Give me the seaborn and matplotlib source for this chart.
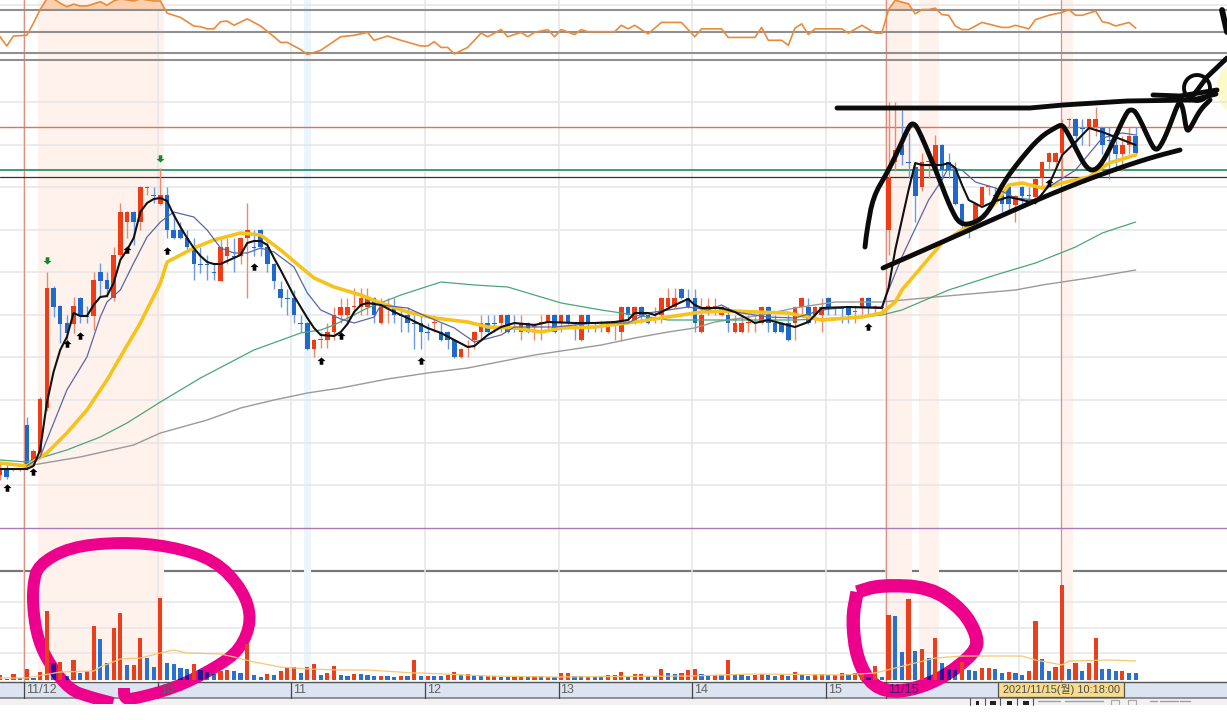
import matplotlib
matplotlib.use('Agg')
import pandas as pd
import seaborn as sns
import matplotlib.pyplot as plt
from matplotlib.markers import MarkerStyle
from matplotlib.path import Path
from matplotlib.patches import Rectangle, Circle, Ellipse

# 3-minute candles, first bar is number -4
opens = [96,103,101,101,146,109,118,163,283,265,
         248,247,273,255,255,299,291,273,316,349,
         359,349,383,376,367,376,341,341,333,324,
         307,307,299,290,315,315,315,333,324,341,
         324,307,282,273,273,248,248,222,231,231,
         239,256,256,264,264,264,273,248,264,264,
         256,256,248,248,239,248,239,239,231,214,
         224,231,239,248,248,248,256,248,239,248,
         244,248,248,256,248,256,248,231,256,248,
         249,239,248,239,264,248,264,256,256,256,
         264,264,282,273,273,239,264,264,256,256,
         239,239,248,248,248,264,248,248,248,248,
         264,264,256,256,273,264,263,264,259,264,
         273,264,263,341,409,426,409,404,384,409,
         401,426,409,401,367,341,349,366,384,376,
         376,384,366,384,376,374,393,409,409,418,
         451,452,443,444,444,443,431,426,417,426,435]
closes = [103,94,102,102,103,120,172,283,264,247,
          238,265,255,254,291,290,282,316,359,359,
          349,384,384,375,376,341,333,333,324,307,
          306,306,298,324,324,314,333,341,323,324,
          307,290,273,272,256,247,222,231,232,239,
          256,264,264,265,273,273,256,264,265,256,
          255,248,247,239,238,249,231,231,214,222,
          225,239,248,239,247,256,239,247,248,239,
          245,249,256,239,256,248,247,256,248,247,
          248,248,249,264,256,264,256,248,257,273,
          273,273,273,264,248,256,265,265,264,248,
          248,248,249,249,264,248,239,239,231,264,
          273,248,264,264,264,263,262,256,260,273,
          264,265,264,393,421,416,408,375,409,410,
          426,401,401,367,349,340,367,384,385,375,
          367,367,375,375,375,392,409,418,418,443,
          452,435,442,452,452,426,430,417,426,435,418]
highs = [109,106,103,103,154,122,174,299,285,266,
         256,274,274,265,299,308,299,324,368,360,
         360,385,385,384,403,384,358,349,341,333,
         324,316,308,333,333,333,334,368,341,342,
         333,308,290,282,281,256,249,232,239,248,
         264,273,273,283,283,283,274,273,273,273,
         264,264,256,256,248,256,248,240,232,223,
         231,240,256,256,256,257,257,256,256,249,
         248,256,257,257,257,257,249,257,257,249,
         250,249,250,265,265,265,265,257,264,274,
         283,283,283,282,282,273,273,273,265,264,
         256,256,256,256,265,265,256,249,256,265,
         274,273,265,273,274,265,264,265,264,274,
         274,266,265,469,469,461,438,409,418,418,
         436,427,418,409,368,349,368,385,386,384,
         377,385,376,385,384,393,410,419,419,452,
         453,453,452,453,464,444,444,435,435,444,444]
lows = [91,92,100,100,101,106,115,160,254,228,
        224,238,248,248,241,274,274,270,314,333,
        326,341,376,368,366,333,332,332,322,291,
        298,291,291,290,307,299,307,273,315,315,
        299,282,264,256,248,239,221,214,223,223,
        231,248,248,256,256,256,248,247,248,248,
        239,239,222,222,231,239,230,222,213,213,
        214,222,231,238,239,239,238,239,231,238,
        231,231,240,238,239,247,231,230,239,239,
        239,238,231,230,248,247,248,247,248,248,
        263,263,272,263,239,238,256,256,255,239,
        238,238,239,239,247,239,238,238,230,231,
        256,247,248,239,256,256,248,248,248,256,
        256,256,258,316,400,406,393,349,380,393,
        400,393,393,366,341,333,348,365,376,368,
        359,359,349,367,367,367,384,401,401,393,
        443,420,426,425,435,417,392,400,400,417,417]

volumes = [5,1,6,2,11,2,8,69,17,18,
           4,20,7,9,54,41,17,52,67,15,
           15,42,22,13,82,17,16,12,11,16,
           10,8,6,9,10,9,7,36,5,3,
           6,5,9,12,13,7,13,16,5,7,
           14,5,4,6,6,5,4,4,4,3,
           4,4,20,4,4,4,4,5,8,5,
           6,4,4,4,4,3,3,4,4,4,
           4,4,3,3,7,7,4,4,3,3,
           3,5,5,8,3,6,6,4,4,11,
           7,6,7,10,11,6,5,5,5,20,
           6,6,4,5,6,5,4,5,4,8,
           6,4,6,6,5,5,7,6,7,7,
           3,14,3,65,64,28,81,29,31,22,
           42,17,11,10,18,10,9,12,12,11,
           7,8,7,5,9,59,21,9,13,95,
           11,17,9,17,42,11,11,9,9,7,7]
vol_dirs = ("rbrbrbrrbr" "brbrrbbrrb" "rrbbrbbbbr" "bbbrrbbrbb" "rbrrrbrrbr" "rbbrbbbrbb"
            "rbrbrbbrrb" "rbbrrbbrrb" "rbrbrrbbrb" "brrrbrrbbr" "bbrrrbbrbr" "bbbrrbbrbr"
            "bbrrbrrbrr" "brbrbbrbrb" "rbbbrbbrrb" "brbbrrbbrr" "brbrrbbbrbb")
bars = list(range(-4, 167))

# moving averages, read at the bars where they bend
ma_fast_x = [-4,0,1,2,3,4,5,6,7,8,9,10,11,12,13,14,15,16,17,18,19,20,21,22,23,24,25,26,27,28,
             29,30,31,32,33,34,35,36,37,38,39,40,42,43,44,46,47,48,49,50,51,53,55,57,60,62,64,66,67,69,
             71,73,76,78,82,85,88,90,91,93,94,95,97,99,100,101,104,106,109,111,
             115,117,119,123,128,129,130,131,132,133,134,137,138,139,140,141,143,145,147,151,
             153,155,157,159,161,166]
ma_fast = [102,102,105,121,168,199,221,234,258,255,255,266,274,275,288,311,321,333,359,368,372,373,370,356,344,333,323,315,309,307,
           307,310,313,316,328,330,330,326,313,301,288,275,253,243,236,235,239,247,259,266,268,266,259,253,243,238,231,224,225,236,
           244,248,246,249,248,248,249,251,258,258,256,259,266,272,266,263,263,259,248,251,
           244,249,263,264,263,283,321,351,381,408,406,406,408,403,386,371,364,370,374,368,
           386,416,429,443,439,426]
ma_blue_x = [0,2,3,6,9,11,12,14,16,18,20,22,25,27,29,31,33,35,37,40,42,44,45,47,49,52,53,57,60,64,67,71,73,79,85,90,93,96,99,
             102,104,106,111,115,119,123,128,129,131,135,137,138,140,142,145,148,151,153,157,161,164,166]
ma_blue = [105,114,131,181,214,254,269,281,308,334,349,359,354,341,323,318,318,323,319,304,278,261,258,252,248,254,266,263,254,243,229,236,244,244,248,248,258,261,264,
           261,266,259,254,253,261,264,264,281,314,371,391,404,401,389,383,373,371,384,401,433,438,436]
ma_yellow_x = [-4,0,3,6,9,12,14,17,20,21,23,25,28,32,35,38,41,43,46,50,53,57,61,66,69,73,77,80,85,91,96,101,106,109,114,119,125,128,130,131,
               137,140,142,145,147,149,152,155,159,162,166]
ma_yellow = [108,105,118,138,161,191,214,248,288,309,316,323,331,338,336,321,304,293,284,276,268,259,253,249,244,243,239,243,244,249,254,259,260,259,258,251,254,258,269,281,
             328,341,348,368,386,388,383,388,394,408,416]
ma_green_x = [-4,0,6,11,15,20,26,34,41,44,46,51,56,62,67,72,80,86,89,96,100,104,110,115,125,128,131,138,145,151,157,161,166]
ma_green = [111,109,121,134,148,169,193,221,238,241,246,263,276,289,286,284,268,261,258,251,251,251,251,251,254,256,261,281,296,308,324,338,349]
ma_grey_x = [0,8,16,20,27,32,37,42,47,54,60,66,76,86,91,96,100,103,110,115,121,128,136,148,152,159,166]
ma_grey = [105,114,126,138,151,163,171,178,183,192,198,203,216,226,233,239,243,249,256,263,269,269,274,281,286,293,301]
vol_ma_x = [-4,0,5,10,11,14,17,20,22,24,29,31,34,38,42,47,51,58,59,69,79,99,109,122,127,130,136,140,149,151,155,156,162,166]
vol_ma = [2,2,8,9,13,21,22,27,30,27,26,23,18,13,11,10,10,7,7,4,3,4,6,5,7,12,22,24,24,20,15,19,20,19]

osc_x = [-4,-3,-2,0,1,2,3,4,5,6,
         7,8,9,11,12,13,14,16,17,19,
         20,21,23,25,26,27,28,29,30,31,
         33,35,37,38,39,41,42,44,47,49,
         51,52,54,56,59,60,61,62,63,64,
         66,68,69,71,72,74,75,76,78,79,
         80,82,83,84,88,89,90,91,93,95,
         98,99,100,101,104,105,109,110,111,113,
         114,115,116,117,118,122,123,125,127,128,
         129,130,132,133,134,135,136,137,138,139,
         140,141,143,146,147,148,150,151,153,155,
         156,157,158,160,161,162,163,165,166]
osc = [43,30,44,45,62,81,96,96,90,85,
       88.6,86,86,92,87,93,96,93,96,93,
       93,76,70,58,57,54,54,64,65,59,
       68,58,43,35,35,25,18,24,43,45,
       49,38,44,38,30,30,36,28,28,19,
       28,48,43,53,43,49,43,49,53,43,
       53,46,53,50,50,59,54,59,47,63,
       63,53,43,54,54,42,42,56,38,38,
       31,55,61,46,54,54,48,59,48,48,
       81,94,89,75,81,81,83,74,73,58,
       53,53,63,56,56,59,54,67,73,77,
       81,73,73,79,64,62,58,63,55]
osc_guides = [80, 50, 20, 10]

up_arrow_x = [-3,1,6,8,15,21,34,44,47,59,126,153]
up_arrow_y = [83,99,227,235,321,320,304,210,235,210,244,388]
down_arrow_x = [3,20]
down_arrow_y = [311,413]

price_grid = [469,426,384,341,299,256,214,171,128,86]
vol_grid = [78,52,27]
hour_ticks = [-0.4,19.6,39.6,59.6,79.6,99.6,119.6,128.6,148.6]
hour_labels = ['11/12','10','11','12','13','14','15','11/15','']
signal_lines = [-0.4,128.6,154.8]
warm_bands = [(1.7,20.5),(128.6,132.5),(133.5,136.6),(154.8,156.6)]
cool_bands = [(41.5,42.5)]

# hand drawn marks on the screenshot, in picture pixels
ink_top = [(837,108),(1030,108),(1063,105),(1127,101),(1193,100),(1216,94)]
ink_top2 = [(1153,95),(1180,96),(1217,90)]
ink_zigzag = [(865,247),(867,230),(873,197),(887,173),(897,153),(909,126),(913,123),(918,128),(937,173),(950,207),(960,225),(975,223),
              (988,213),(1003,183),(1020,160),(1040,137),(1058,126),(1062,125),(1066,130),(1073,143),(1087,170),(1097,170),(1108,153),
              (1126,113),(1131,109),(1137,113),(1152,146),(1156,150),(1160,147),(1167,133),(1177,106),(1180,102),(1183,108),(1186,128),
              (1188,131),(1191,127),(1200,110),(1210,100)]
ink_low = [(883,268),(940,243),(1003,215),(1060,190),(1113,170),(1153,157),(1180,150)]
ink_exit = [(1190,100),(1207,77),(1227,58)]
ink_corner = [(1222,10),(1227,32)]
pink_left = [(113,703),(90,697),(70,690),(50,665),(38,640),(33,610),(33,585),(38,565),(70,547),(120,542),(170,546),(215,560),
             (243,590),(252,620),(240,650),(215,668),(175,688),(130,700),(124,697),(124,688)]
pink_right = [(857,592),(880,585),(930,587),(963,610),(978,637),(975,653),(940,680),(900,693),(873,687),(857,660),(852,620),(857,592)]

RED = '#f03c14'
BLUE = '#1f69cc'
PINK = '#ec008c'


def soften(points, rounds=2):
    # pen strokes are round, so cut the corners of the traced polyline
    for _ in range(rounds):
        out = [points[0]]
        for (x0, y0), (x1, y1) in zip(points, points[1:]):
            out.append((0.75 * x0 + 0.25 * x1, 0.75 * y0 + 0.25 * y1))
            out.append((0.25 * x0 + 0.75 * x1, 0.25 * y0 + 0.75 * y1))
        out.append(points[-1])
        points = out
    return points


sns.set_theme(style='white')
plt.rcParams['font.family'] = ['Noto Sans CJK KR', 'DejaVu Sans']

W, H = 1227, 720
fig = plt.figure(figsize=(W / 100, H / 100), dpi=100, facecolor='white')


def panel(top, bottom, z):
    ax = fig.add_axes([0, 1 - bottom / H, 1, (bottom - top) / H], zorder=z)
    ax.patch.set_visible(False)
    ax.set_xlim(-4.012, 179.67)
    sns.despine(ax=ax, left=True, bottom=True)
    ax.tick_params(length=0, labelbottom=False, labelleft=False)
    return ax


def dress(ax, yticks):
    ax.set_xticks(hour_ticks)
    ax.set_yticks(yticks)
    ax.set_axisbelow(True)
    ax.grid(True, color='#e6e6e6', linewidth=1.1)
    for a, b in warm_bands:
        ax.axvspan(a, b, color='#fff2ec', linewidth=0, zorder=0)
    for a, b in cool_bands:
        ax.axvspan(a, b, color='#eaf5fd', linewidth=0, zorder=0)
    for x in signal_lines:
        ax.axvline(x, color='#dc8f84', linewidth=0.9, zorder=1)


# page behind everything: pixel coordinates for the window chrome
chrome = fig.add_axes([0, 0, 1, 1], zorder=0)
chrome.set_xlim(0, W)
chrome.set_ylim(H, 0)
chrome.axis('off')
chrome.add_patch(Ellipse((1235, 88), 36, 50, color='#fdf9c8', linewidth=0))
chrome.add_patch(Rectangle((0, 698), W, 7, color='#f1f1f1', linewidth=0))
chrome.add_patch(Rectangle((0, 682), W, 16, color='#dbe4f0', linewidth=0))
chrome.plot([0, W], [681.5, 681.5], color='#555555', linewidth=1.0)
chrome.plot([0, W], [697.5, 697.5], color='#777777', linewidth=1.1)
chrome.plot([0, W], [571, 571], color='#777777', linewidth=1.6)
# toolbar tops, the capture cuts them off at the window edge
for bx in [970, 985, 1000, 1017, 1033]:
    chrome.plot([bx, bx], [698, 705], color='#555555', linewidth=0.8)
for bx, bw in [(976, 3), (990, 6), (1007, 5), (1023, 6)]:
    chrome.add_patch(Rectangle((bx, 701), bw, 4, color='#222222', linewidth=0))
for x0, x1 in [(1038, 1060), (1065, 1103), (1150, 1157), (1160, 1178), (1180, 1190)]:
    chrome.plot([x0, x1], [700.5, 700.5], color='#a0a0a0', linewidth=1.0)
for bx in [1111, 1128]:
    chrome.add_patch(Rectangle((bx, 700), 8, 6, fill=False, edgecolor='#a8a8a8', linewidth=0.8))
chrome.add_patch(Rectangle((0, 705), W, 15, color='white', linewidth=0))

# oscillator pane
ax_osc = panel(0, 62, 2)
ax_osc.set_ylim(7.6, 94.4)
dress(ax_osc, [87.5])
for level in osc_guides:
    ax_osc.axhline(level, color='#909090', linewidth=1.5, zorder=1.5)
ax_osc.fill_between(osc_x, 80, osc, where=[v > 80 for v in osc], interpolate=True, color='#fbd0ae', linewidth=0, zorder=1)
sns.lineplot(x=osc_x, y=osc, ax=ax_osc, color='#e98b3c', linewidth=1.2, estimator=None, zorder=3)
ax_osc.set(xlabel='', ylabel='')

# price pane
ax_price = panel(62, 571, 2)
ax_price.set_ylim(0, 509)
dress(ax_price, price_grid)
ax_price.axhline(444, color='#d87468', linewidth=1.0, zorder=1.5)
ax_price.axhline(401, color='#2f9468', linewidth=1.3, zorder=1.5)
ax_price.axhline(394, color='#333333', linewidth=0.9, zorder=1.5)
ax_price.axhline(43, color='#ac7ab0', linewidth=1.0, zorder=1.5)

for x, o, c, hi, lo in zip(bars, opens, closes, highs, lows):
    up = c >= o
    ax_price.vlines(x, lo, hi, color='#e98a70' if up else '#6d9ade', linewidth=1.0, zorder=2)
    ax_price.bar(x, abs(c - o), bottom=min(o, c), width=0.68, color=RED if up else BLUE, zorder=2.5, linewidth=0)

sns.lineplot(x=ma_grey_x, y=ma_grey, ax=ax_price, color='#9a9a9a', linewidth=1.0, estimator=None, zorder=3)
sns.lineplot(x=ma_green_x, y=ma_green, ax=ax_price, color='#4aa67a', linewidth=0.9, estimator=None, zorder=3)
sns.lineplot(x=ma_yellow_x, y=ma_yellow, ax=ax_price, color='#f6c21c', linewidth=2.6, estimator=None, zorder=3.2)
sns.lineplot(x=ma_blue_x, y=ma_blue, ax=ax_price, color='#5a66a8', linewidth=0.9, estimator=None, zorder=3.4)
sns.lineplot(x=ma_fast_x, y=ma_fast, ax=ax_price, color='#111111', linewidth=1.5, estimator=None, zorder=3.6)

arrow_up = Path([(0, 1), (1, 0.1), (0.45, 0.1), (0.45, -0.8), (-0.45, -0.8), (-0.45, 0.1), (-1, 0.1), (0, 1)], closed=True)
arrow_down = Path([(x, -y) for x, y in arrow_up.vertices], closed=True)
sns.scatterplot(x=up_arrow_x, y=up_arrow_y, ax=ax_price, marker=MarkerStyle(arrow_up), s=34, color='black', linewidth=0, zorder=4)
sns.scatterplot(x=down_arrow_x, y=down_arrow_y, ax=ax_price, marker=MarkerStyle(arrow_down), s=34, color='#0f8a2c', linewidth=0, zorder=4)
ax_price.set(xlabel='', ylabel='', xlim=(-4.012, 179.67), ylim=(0, 509))

# volume pane
ax_vol = panel(571, 682, 3)
ax_vol.set_ylim(-2, 109)
dress(ax_vol, vol_grid)

# the pink circles sit between the pane background and the volume bars
pink_strokes = [(soften(pink_left), 8.6), (soften(pink_right), 9.6)]
page_clip = Rectangle((0, 0), W, 704, transform=chrome.transData)
for stroke, width in pink_strokes:
    line, = ax_vol.plot(*zip(*stroke), transform=chrome.transData, color=PINK, linewidth=width,
                        solid_capstyle='butt', solid_joinstyle='round', zorder=2)
    line.set_clip_path(page_clip)

df_vol = pd.DataFrame({'bar': bars, 'volume': volumes, 'dir': list(vol_dirs)})
sns.barplot(data=df_vol, x='bar', y='volume', hue='dir', palette={'r': '#ea3f1c', 'b': '#2b6fd0'}, native_scale=True,
            dodge=False, width=0.62, saturation=1, legend=False, ax=ax_vol, zorder=3, linewidth=0)
ax_vol.set(xlabel='', ylabel='', xlim=(-4.012, 179.67), ylim=(-2, 109))
sns.lineplot(x=vol_ma_x, y=vol_ma, ax=ax_vol, color='#f4c873', linewidth=0.9, estimator=None, zorder=4)

# where pink crosses a blue bar the two inks turn navy
blue_verts, blue_codes = [], []
for x, v, d in zip(bars, volumes, vol_dirs):
    if d == 'b':
        blue_verts += [(x - 0.31, 0), (x + 0.31, 0), (x + 0.31, v), (x - 0.31, v), (x - 0.31, 0)]
        blue_codes += [Path.MOVETO, Path.LINETO, Path.LINETO, Path.LINETO, Path.CLOSEPOLY]
blue_path = Path(blue_verts, blue_codes)
for stroke, width in pink_strokes:
    line, = ax_vol.plot(*zip(*stroke), transform=chrome.transData, color='#2a148f', linewidth=width,
                        solid_capstyle='butt', solid_joinstyle='round', zorder=3.5)
    line.set_clip_path(blue_path, ax_vol.transData)

# time strip under the volume pane
for x, label in zip(hour_ticks, hour_labels):
    if label:
        ax_vol.plot([x, x], [-18, -2], color='#444444', linewidth=0.9, clip_on=False, zorder=1.2)
        ax_vol.text(x + 0.3, -10, label, fontsize=9, color='#3a1a70' if label == '11/15' else '#606060', va='center', ha='left',
                    family=['Liberation Sans', 'DejaVu Sans'], clip_on=False, zorder=5)
ax_vol.add_patch(Rectangle((145.4, -17), 18.9, 15.5, facecolor='#f9dd8e', edgecolor='#555555', linewidth=0.9, clip_on=False, zorder=5.5))
ax_vol.text(154.85, -9.8, '2021/11/15(월) 10:18:00', fontsize=7.9, color='#4a4a4a', va='center', ha='center', clip_on=False, zorder=6,
            family=['Liberation Sans', 'Noto Sans CJK KR'])

# hand drawn pen strokes go over everything
ink = fig.add_axes([0, 0, 1, 1], zorder=10)
ink.set_xlim(0, W)
ink.set_ylim(H, 0)
ink.axis('off')
for stroke in [ink_top, ink_top2, soften(ink_zigzag), soften(ink_low), ink_exit]:
    ink.plot(*zip(*stroke), color='#0b0b0b', linewidth=3.5, solid_capstyle='round', solid_joinstyle='round')
ink.plot(*zip(*ink_corner), color='#0b0b0b', linewidth=4.2, solid_capstyle='round')
ink.add_patch(Circle((1197, 88), 13, fill=False, edgecolor='#0b0b0b', linewidth=2.8))

fig.savefig('out.png', dpi=100)
